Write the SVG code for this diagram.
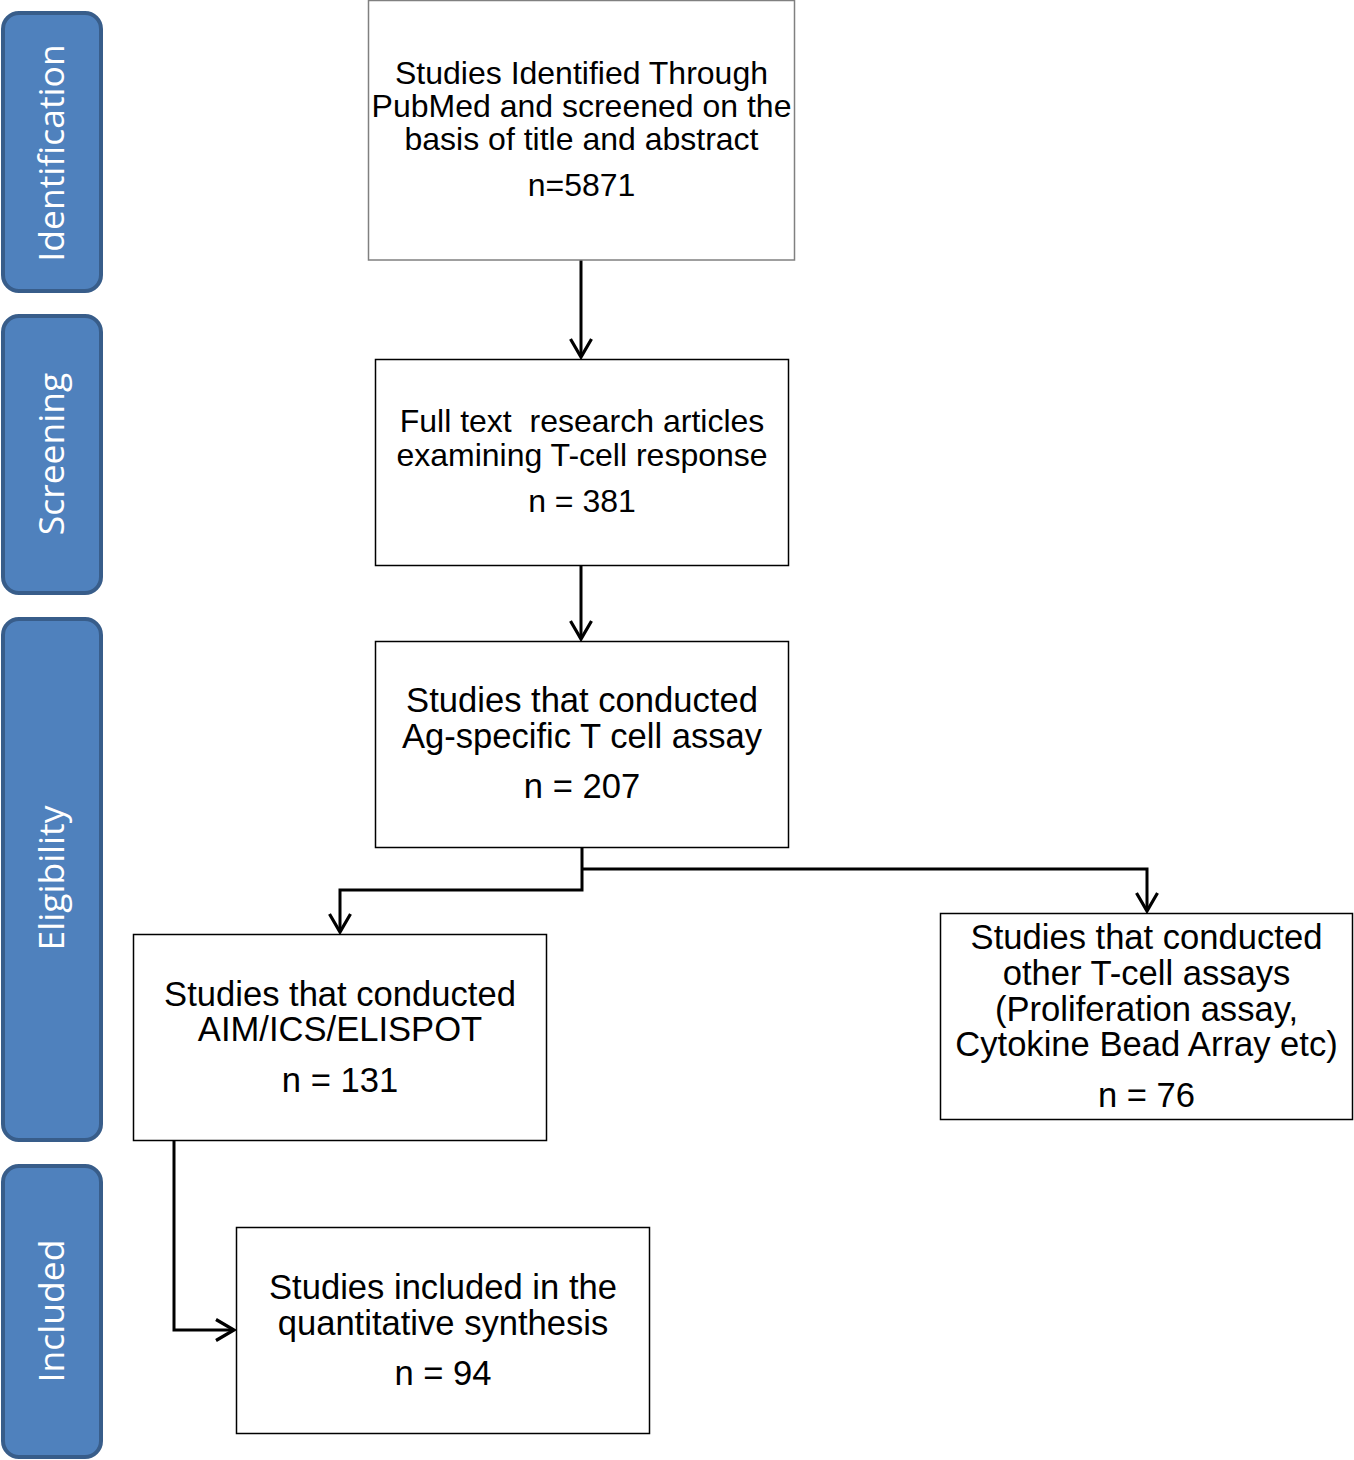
<svg xmlns="http://www.w3.org/2000/svg" width="1354" height="1460" viewBox="0 0 1354 1460">
<style>
.tab{fill:#4f81bd;stroke:#385d8a;stroke-width:4}
.tabt{fill:#ffffff;font-family:"Open Sans","Noto Sans",sans-serif;font-size:35.5px;text-anchor:middle}
.box{fill:#ffffff;stroke:#000000;stroke-width:1.5}
.t{font-family:"Liberation Sans",Arial,sans-serif;fill:#000000;text-anchor:middle}
.s31{font-size:32px}
.s34{font-size:34.6px}
.c{fill:none;stroke:#000000;stroke-width:3}
</style>
<defs>
<marker id="ah" markerWidth="40" markerHeight="40" viewBox="-20 -20 40 40" refX="0" refY="0" orient="auto" markerUnits="userSpaceOnUse">
<path d="M-18,-10.5 L0,0 L-18,10.5" fill="none" stroke="#000" stroke-width="3.2"/>
</marker>
</defs>
<rect width="1354" height="1460" fill="#ffffff"/>
<g id="tab-identification"><rect class="tab" x="3" y="13" width="98" height="278" rx="16"/><text class="tabt" transform="translate(52,153) rotate(-90)" y="12">Identification</text></g>
<g id="tab-screening"><rect class="tab" x="3" y="316" width="98" height="277" rx="16"/><text class="tabt" transform="translate(52,454) rotate(-90)" y="12">Screening</text></g>
<g id="tab-eligibility"><rect class="tab" x="3" y="619" width="98" height="521" rx="16"/><text class="tabt" transform="translate(52,878) rotate(-90)" y="12">Eligibility</text></g>
<g id="tab-included"><rect class="tab" x="3" y="1166" width="98" height="291" rx="16"/><text class="tabt" transform="translate(52,1311) rotate(-90)" y="12">Included</text></g>

<g id="connectors">
<path class="c" d="M581,260 L581,357" marker-end="url(#ah)"/>
<path class="c" d="M581,565 L581,639" marker-end="url(#ah)"/>
<path class="c" d="M582,847 L582,890 L340,890 L340,932" marker-end="url(#ah)"/>
<path class="c" d="M582,869 L1147,869 L1147,911" marker-end="url(#ah)"/>
<path class="c" d="M174,1140 L174,1330 L234,1330" marker-end="url(#ah)"/>
</g>

<g id="node-identified"><rect class="box" x="368.5" y="0.5" width="426" height="259.5" style="stroke:#808080"/>
<text class="t s31"><tspan x="581.5" y="84">Studies Identified Through</tspan><tspan x="581.5" y="117">PubMed and screened on the</tspan><tspan x="581.5" y="150">basis of title and abstract</tspan><tspan x="581.5" y="196">n=5871</tspan></text></g>

<g id="node-fulltext"><rect class="box" x="375.5" y="359.5" width="413" height="206"/>
<text class="t s31"><tspan x="582" y="432">Full text &#160;research articles</tspan><tspan x="582" y="466">examining T-cell response</tspan><tspan x="582" y="512">n = 381</tspan></text></g>

<g id="node-agspecific"><rect class="box" x="375.5" y="641.5" width="413" height="206"/>
<text class="t s34"><tspan x="582" y="712">Studies that conducted</tspan><tspan x="582" y="748">Ag-specific T cell assay</tspan><tspan x="582" y="798">n = 207</tspan></text></g>

<g id="node-aim"><rect class="box" x="133.5" y="934.5" width="413" height="206"/>
<text class="t s34"><tspan x="340" y="1006">Studies that conducted</tspan><tspan x="340" y="1041">AIM/ICS/ELISPOT</tspan><tspan x="340" y="1092">n = 131</tspan></text></g>

<g id="node-other"><rect class="box" x="940.5" y="913.5" width="412" height="206"/>
<text class="t s34"><tspan x="1146.5" y="949">Studies that conducted</tspan><tspan x="1146.5" y="985">other T-cell assays</tspan><tspan x="1146.5" y="1021">(Proliferation assay,</tspan><tspan x="1146.5" y="1056">Cytokine Bead Array etc)</tspan><tspan x="1146.5" y="1107">n = 76</tspan></text></g>

<g id="node-included"><rect class="box" x="236.5" y="1227.5" width="413" height="206"/>
<text class="t s34"><tspan x="443" y="1299">Studies included in the</tspan><tspan x="443" y="1335">quantitative synthesis</tspan><tspan x="443" y="1385">n = 94</tspan></text></g>
</svg>
